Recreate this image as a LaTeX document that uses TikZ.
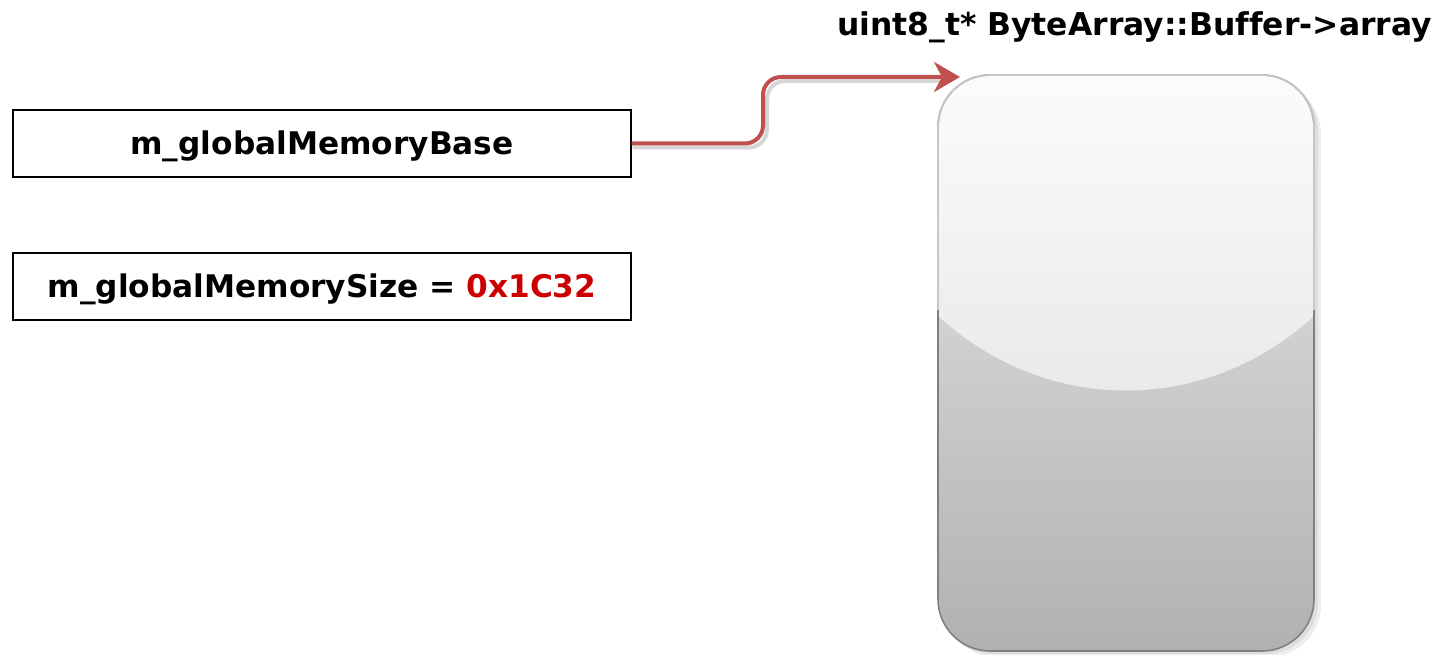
\documentclass[tikz,border=0pt]{standalone}
\usepackage{fontspec}
\setmainfont[Ligatures=NoCommon]{DejaVu Sans}
\usetikzlibrary{arrows.meta}
\definecolor{linkred}{HTML}{C0504D}
\definecolor{valred}{HTML}{CC0000}
\definecolor{rimgray}{HTML}{808080}
\tikzset{
  varbox/.style={draw=black, line width=1.3pt, fill=white, minimum width=618pt,
    minimum height=67pt, inner sep=0pt, text height=23pt, text depth=0pt,
    font=\fontsize{31.2}{36}\selectfont\bfseries},
  titletext/.style={font=\fontsize{31.4}{36}\selectfont\bfseries, inner sep=0pt},
  link/.style={draw=linkred, line width=4pt, rounded corners=18pt,
    -{Stealth[length=26pt, width=30pt, inset=8pt]}},
  linkshadow/.style={draw=black!16, line width=4pt, rounded corners=18pt}
}
\begin{document}
\begin{tikzpicture}[x=1pt,y=-1pt]
  \useasboundingbox (0,0) rectangle (1441,655);

  % memory block: drop shadow, base gradient, gloss, rim
  \fill[black!7, rounded corners=52pt] (944,82) rectangle (1321,657);
  \fill[black!13, rounded corners=52pt] (941,79) rectangle (1318,654);
  \node[draw=none, minimum width=376pt, minimum height=576pt, inner sep=0pt] (buf) at (1126,363) {};
  \begin{scope}
    \clip[rounded corners=52pt] (938,75) rectangle (1314,651);
    \shade[top color=black!8, bottom color=black!31] (930,60) rectangle (1320,660);
    \shade[top color=black!1, bottom color=black!9]
      (930,60) -- (930,308) .. controls (1040,418) and (1212,418) .. (1322,308) -- (1322,60) -- cycle;
  \end{scope}
  \draw[rimgray, line width=1.6pt, rounded corners=52pt] (938,75) rectangle (1314,651);
  \draw[black!22, line width=1.6pt, rounded corners=52pt]
    (938,310) -- (938,75) -- (1314,75) -- (1314,310);

  \node[titletext, anchor=base] (title) at (1134.5,36) {uint8\_t* ByteArray::Buffer->array};

  % variable boxes
  \node[varbox] (base) at (322,143.5) {m\_globalMemoryBase};
  \node[varbox] (size) at (322,286.5) {m\_globalMemorySize = \textcolor{valred}{0x1C32}};

  % pointer from the base variable to the start of the buffer
  \coordinate (tip) at (960,77);
  \coordinate (tipshadow) at (944,81);
  \draw[linkshadow] ([xshift=1pt,yshift=-4pt]base.east) -- (767,147.5) -- (767,81) -- (tipshadow);
  \draw[link] (base.east) -- (763,143.5) -- (763,77) -- (tip);
\end{tikzpicture}
\end{document}
